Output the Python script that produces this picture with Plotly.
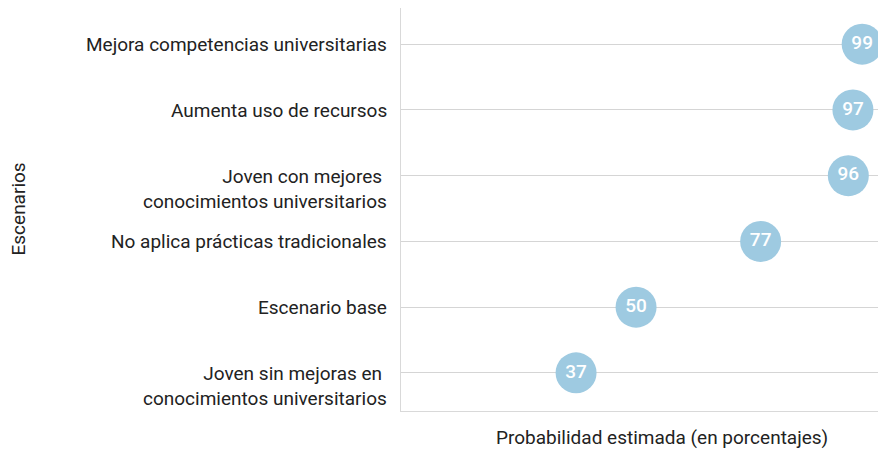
import plotly.graph_objects as go

categorias = [
    "Joven sin mejoras en <br>conocimientos universitarios",
    "Escenario base",
    "No aplica prácticas tradicionales",
    "Joven con mejores <br>conocimientos universitarios",
    "Aumenta uso de recursos",
    "Mejora competencias universitarias",
]
valores = [37, 50, 77, 96, 97, 99]
etiquetas = [str(v) for v in valores]

fig = go.Figure(
    go.Scatter(
        x=valores,
        y=categorias,
        mode="markers+text",
        marker=dict(size=41, color="#9ecae1", line=dict(width=0)),
        text=etiquetas,
        textposition="middle center",
        textfont=dict(color="white", size=19, family="Roboto", weight=500),
        cliponaxis=False,
        hoverinfo="skip",
    )
)

anotaciones = [
    dict(text="Probabilidad estimada (en porcentajes)", xref="paper", yref="paper",
         x=0, xshift=261, y=0, yshift=-26, xanchor="center", yanchor="middle",
         showarrow=False, font=dict(size=19, color="#222222")),
    dict(text="Escenarios", xref="paper", yref="paper",
         x=0, xshift=-383, y=0.5, yshift=0, textangle=-90,
         xanchor="center", yanchor="middle",
         showarrow=False, font=dict(size=19, color="#222222")),
]
# category labels: first line centred on the gridline, extra lines below
for c in categorias:
    anotaciones.append(dict(
        text=c, xref="paper", yref="y", x=0, y=c, xshift=-12,
        xanchor="right", yanchor="top", yshift=13, align="right",
        showarrow=False, font=dict(size=19, color="#222222"),
    ))

fig.update_layout(
    width=886,
    height=449,
    margin=dict(l=393, r=0, t=0, b=46, autoexpand=False),
    plot_bgcolor="white",
    paper_bgcolor="white",
    font=dict(family="Roboto", size=19, color="#222222"),
    showlegend=False,
    annotations=anotaciones,
)
fig.update_xaxes(
    range=[-0.94, 105.9],
    showticklabels=False,
    ticks="",
    showgrid=False,
    zeroline=False,
    showline=True,
    linecolor="#d9d9d9",
    linewidth=1,
    automargin=False,
)
fig.update_yaxes(
    type="category",
    categoryorder="array",
    categoryarray=categorias,
    range=[-0.58, 5.55],
    showgrid=True,
    gridcolor="#d5d5d5",
    gridwidth=1,
    showline=True,
    linecolor="#d9d9d9",
    linewidth=1,
    ticks="",
    showticklabels=False,
    zeroline=False,
    automargin=False,
)

fig.write_html("out.html")
